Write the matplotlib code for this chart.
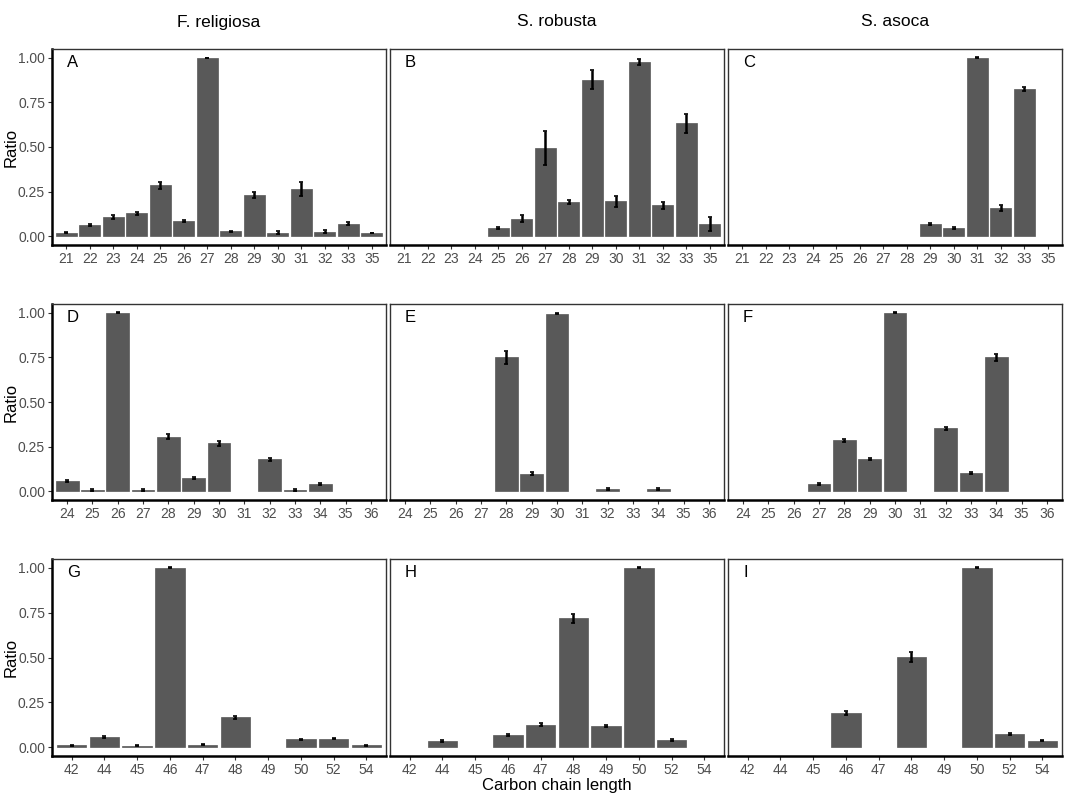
import matplotlib
matplotlib.use("Agg")
import matplotlib.pyplot as plt
import numpy as np

plt.rcParams['font.family'] = ['Liberation Sans', 'DejaVu Sans']

species = ["F. religiosa", "S. robusta", "S. asoca"]
panel_labels = ["A", "B", "C", "D", "E", "F", "G", "H", "I"]

cats_row1 = ["21", "22", "23", "24", "25", "26", "27", "28", "29", "30", "31", "32", "33", "35"]
cats_row2 = ["24", "25", "26", "27", "28", "29", "30", "31", "32", "33", "34", "35", "36"]
cats_row3 = ["42", "44", "45", "46", "47", "48", "49", "50", "52", "54"]

# None = no bar
A_val = [0.020, 0.061, 0.107, 0.128, 0.285, 0.083, 1.000, 0.026, 0.233, 0.019, 0.265, 0.024, 0.070, 0.015]
A_err = [0.004, 0.005, 0.010, 0.008, 0.020, 0.006, 0.000, 0.005, 0.017, 0.010, 0.039, 0.008, 0.008, 0.000]
B_val = [None, None, None, None, 0.046, 0.098, 0.496, 0.190, 0.878, 0.196, 0.978, 0.174, 0.633, 0.068]
B_err = [0, 0, 0, 0, 0.005, 0.018, 0.095, 0.012, 0.053, 0.030, 0.015, 0.020, 0.054, 0.040]
C_val = [None, None, None, None, None, None, None, None, 0.068, 0.046, 1.000, 0.157, 0.824, None]
C_err = [0, 0, 0, 0, 0, 0, 0, 0, 0.006, 0.005, 0.003, 0.017, 0.012, 0]

D_val = [0.056, 0.007, 1.000, 0.007, 0.304, 0.074, 0.269, None, 0.178, 0.007, 0.039, None, None]
D_err = [0.005, 0.004, 0.003, 0.004, 0.014, 0.006, 0.014, 0, 0.008, 0.004, 0.005, 0, 0]
E_val = [None, None, None, None, 0.750, 0.098, 0.996, None, 0.013, None, 0.013, None, None]
E_err = [0, 0, 0, 0, 0.035, 0.008, 0.004, 0, 0.005, 0, 0.005, 0, 0]
F_val = [None, None, None, 0.041, 0.285, 0.181, 1.000, None, 0.352, 0.102, 0.750, None, None]
F_err = [0, 0, 0, 0.005, 0.010, 0.007, 0.003, 0, 0.010, 0.005, 0.018, 0, 0]

G_val = [0.009, 0.056, 0.007, 1.000, 0.013, 0.166, None, 0.043, 0.047, 0.009]
G_err = [0.003, 0.004, 0.003, 0.003, 0.004, 0.008, 0, 0.004, 0.004, 0.003]
H_val = [None, 0.034, None, 0.069, 0.125, 0.718, 0.118, 1.000, 0.039, None]
H_err = [0, 0.004, 0, 0.005, 0.007, 0.026, 0.006, 0.003, 0.004, 0]
I_val = [None, None, None, 0.190, None, 0.504, None, 1.000, 0.071, 0.035]
I_err = [0, 0, 0, 0.012, 0, 0.028, 0, 0.003, 0.005, 0.004]

rows = [
    (cats_row1, [(A_val, A_err), (B_val, B_err), (C_val, C_err)]),
    (cats_row2, [(D_val, D_err), (E_val, E_err), (F_val, F_err)]),
    (cats_row3, [(G_val, G_err), (H_val, H_err), (I_val, I_err)]),
]

W, H = 1065, 794
fig = plt.figure(figsize=(W / 100, H / 100), dpi=100)

col_x = [52, 390, 728]
col_w = 334
row_y = [(49, 245), (304, 500), (559, 756)]

bar_color = "#595959"
tick_color = "#4d4d4d"

for r, (cats, panels) in enumerate(rows):
    top, bot = row_y[r]
    for c, (vals, errs) in enumerate(panels):
        ax = fig.add_axes([col_x[c] / W, (H - bot) / H, col_w / W, (bot - top) / H])
        x = np.arange(len(cats))
        idx = [i for i, v in enumerate(vals) if v is not None]
        xv = x[idx]
        yv = np.array([vals[i] for i in idx])
        ev = np.array([errs[i] for i in idx])
        ax.bar(xv, yv, width=0.9, color=bar_color, edgecolor=bar_color, linewidth=0.5, zorder=2)
        ax.errorbar(xv, yv, yerr=ev, fmt="none", ecolor="black", elinewidth=1.8,
                    capsize=1.5, capthick=1.2, zorder=3)
        ax.set_xlim(-0.6, len(cats) - 1 + 0.6)
        ax.set_ylim(-0.05, 1.05)
        ax.set_xticks(x)
        ax.set_xticklabels(cats, fontsize=10, color=tick_color)
        ax.set_yticks([0, 0.25, 0.5, 0.75, 1.0])
        ax.tick_params(axis="x", length=3, width=0.8, color="#333333", pad=2)
        if c == 0:
            ax.set_yticklabels(["0.00", "0.25", "0.50", "0.75", "1.00"], fontsize=10, color=tick_color)
            ax.tick_params(axis="y", length=3, width=0.8, color="#333333", pad=2)
            ax.set_ylabel("Ratio", fontsize=12, color="black")
            ax.yaxis.set_label_coords((19 - col_x[0]) / col_w, 0.5)
        else:
            ax.set_yticklabels([])
            ax.tick_params(axis="y", length=0)
        for side in ["top", "right", "left"]:
            ax.spines[side].set_color("#333333")
            ax.spines[side].set_linewidth(1.0)
        ax.spines["bottom"].set_color("black")
        ax.spines["bottom"].set_linewidth(1.8)
        if c == 0:
            ax.spines["left"].set_color("black")
            ax.spines["left"].set_linewidth(1.8)
        ax.text(0.045, 0.93, panel_labels[r * 3 + c], transform=ax.transAxes,
                fontsize=12, ha="left", va="center", color="black")
        if r == 0:
            fig.text((col_x[c] + col_w / 2) / W, (H - 22) / H, species[c],
                     fontsize=12.5, ha="center", va="center")
        if r == 2 and c == 1:
            ax.set_xlabel("Carbon chain length", fontsize=12, labelpad=1)

fig.savefig("out.png", dpi=100)
